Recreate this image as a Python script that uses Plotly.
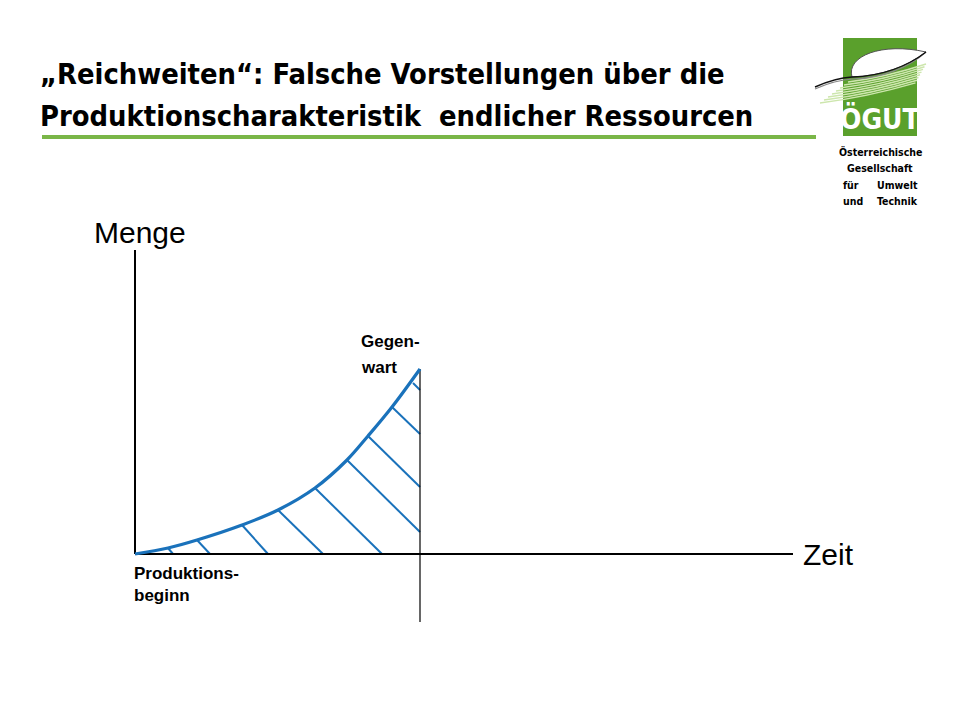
import plotly.graph_objects as go

W, H = 960, 720
OFF = 8  # page body margin of the html page

# ---- data (abstract units: Zeit / Menge) ----
zeit = [0, 33, 62, 107, 143, 180, 212, 233, 257, 285]
menge = [0, 6, 14, 29, 44, 66, 94, 118, 147, 185]

hatch_x0 = [33, 62, 107, 143, 180, 212, 233, 257, 278]
hatch_y0 = [6, 14, 29, 44, 66, 94, 118, 147, 171]
hatch_x1 = [38, 75, 133, 188, 247, 285, 285, 285, 285]
hatch_y1 = [0, 0, 0, 0, 0, 22, 67, 120, 164]

x_axis_end = 658
y_axis_end = 304
gegenwart_x = 285
gegenwart_bottom = -68

title_lines = ["„Reichweiten“: Falsche Vorstellungen über die",
               "Produktionscharakteristik  endlicher Ressourcen"]

blue = "#1a72bb"
green = "#7ab648"
COND = "DejaVu Sans Condensed, Liberation Sans Narrow, Liberation Sans"
ARIAL = "Liberation Sans, Arial"

fig = go.Figure()

# hatch lines
hx, hy = [], []
for a, b, c, d in zip(hatch_x0, hatch_y0, hatch_x1, hatch_y1):
    hx += [a, c, None]
    hy += [b, d, None]
fig.add_trace(go.Scatter(x=hx, y=hy, mode="lines",
                         line=dict(color=blue, width=2), hoverinfo="skip"))

# axes
fig.add_trace(go.Scatter(x=[0, x_axis_end], y=[0, 0], mode="lines",
                         line=dict(color="black", width=2), hoverinfo="skip"))
fig.add_trace(go.Scatter(x=[0, 0], y=[0, y_axis_end], mode="lines",
                         line=dict(color="black", width=2), hoverinfo="skip"))
fig.add_trace(go.Scatter(x=[gegenwart_x, gegenwart_x], y=[gegenwart_bottom, menge[-1]],
                         mode="lines", line=dict(color="black", width=1.2), hoverinfo="skip"))

# curve
fig.add_trace(go.Scatter(x=zeit, y=menge, mode="lines", line_shape="spline",
                         line=dict(color=blue, width=3.2), hoverinfo="skip"))

# axis labels
fig.add_annotation(x=5, y=322, text="Menge", showarrow=False, xanchor="center",
                   yanchor="middle", font=dict(family=ARIAL, size=30, color="black"))
fig.add_annotation(x=x_axis_end + 8, y=0, text="Zeit", showarrow=False, xanchor="left",
                   yanchor="middle", font=dict(family=ARIAL, size=30, color="black"))
fig.add_annotation(x=224, y=213, text="<b>Gegen-</b>", showarrow=False,
                   xanchor="left", yanchor="middle", align="left",
                   font=dict(family=ARIAL, size=17, color="black"))
fig.add_annotation(x=224, y=187, text="<b>wart</b>", showarrow=False,
                   xanchor="left", yanchor="middle", align="left",
                   font=dict(family=ARIAL, size=17, color="black"))
fig.add_annotation(x=-3, y=-8, text="<b>Produktions-<br>beginn</b>", showarrow=False,
                   xanchor="left", yanchor="top", align="left",
                   font=dict(family=ARIAL, size=17, color="black"))


def px(x):
    return (x - OFF) / W


def py(y):
    return 1 - (y - OFF) / H


def pt(a, b):
    return f"{px(a):.5f},{py(b):.5f}"


# title
for yy, line in zip([74, 116], title_lines):
    fig.add_annotation(xref="paper", yref="paper", x=px(38), y=py(yy), text="<b>" + line + "</b>",
                       showarrow=False, xanchor="left", yanchor="middle",
                       font=dict(family=COND, size=28.8, color="black"))
fig.add_shape(type="line", xref="paper", yref="paper", x0=px(42), x1=px(816), y0=py(137), y1=py(137),
              line=dict(color=green, width=4))

# logo
fig.add_shape(type="rect", xref="paper", yref="paper", x0=px(843), x1=px(917), y0=py(38), y1=py(136),
              line=dict(width=0), fillcolor="#5aa02c")

# stripes under leaf
for i in range(8):
    sx, sy = 848 - 4 * i, 82 + 3 * i
    ex, ey = 926 - 1.5 * i, 64 + 2.7 * i
    mx, my = (sx + ex) / 2, (sy + ey) / 2 + 4
    fig.add_shape(type="path", xref="paper", yref="paper",
                  path=f"M {pt(sx, sy)} Q {pt(mx, my)} {pt(ex, ey)}",
                  line=dict(color="#cde6ad", width=1.5))
# leaf body
fig.add_shape(type="path", xref="paper", yref="paper",
              path=f"M {pt(852, 77)} C {pt(846, 56)} {pt(882, 42)} {pt(926, 52)} "
                   f"C {pt(908, 66)} {pt(882, 76)} {pt(852, 77)} Z",
              line=dict(color="#555555", width=1), fillcolor="white")
# dark rim + stem
fig.add_shape(type="path", xref="paper", yref="paper",
              path=f"M {pt(815, 89)} Q {pt(835, 80)} {pt(853, 79)} C {pt(882, 78)} {pt(908, 68)} {pt(926, 52)}",
              line=dict(color="#888888", width=1.2))
fig.add_shape(type="path", xref="paper", yref="paper",
              path=f"M {pt(815, 87)} Q {pt(835, 78)} {pt(852, 77)} C {pt(882, 76)} {pt(908, 66)} {pt(926, 52)}",
              line=dict(color="#111111", width=1.4))

fig.add_annotation(xref="paper", yref="paper", x=px(880), y=py(119), text="<b>ÖGUT</b>", showarrow=False,
                   xanchor="center", yanchor="middle",
                   font=dict(family=COND, size=28, color="white"))
logo_lines = [("Österreichische", None), ("Gesellschaft", None), ("für", "Umwelt"), ("und", "Technik")]
for i, (l, r) in enumerate(logo_lines):
    yy = py(152 + i * 16.3)
    fnt = dict(family=COND, size=10.5, color="black")
    if r is None:
        fig.add_annotation(xref="paper", yref="paper", x=px(880), y=yy, text="<b>" + l + "</b>",
                           showarrow=False, xanchor="center", yanchor="middle", font=fnt)
    else:
        fig.add_annotation(xref="paper", yref="paper", x=px(841), y=yy, text="<b>" + l + "</b>",
                           showarrow=False, xanchor="left", yanchor="middle", font=fnt)
        fig.add_annotation(xref="paper", yref="paper", x=px(920), y=yy, text="<b>" + r + "</b>",
                           showarrow=False, xanchor="right", yanchor="middle", font=fnt)

fig.update_layout(
    width=W, height=H, showlegend=False,
    margin=dict(l=0, r=0, t=0, b=0),
    paper_bgcolor="white", plot_bgcolor="white",
    xaxis=dict(range=[-135 + OFF, 825 + OFF], visible=False, fixedrange=True),
    yaxis=dict(range=[-166 - OFF, 554 - OFF], visible=False, fixedrange=True),
)

fig.write_html("out.html")
